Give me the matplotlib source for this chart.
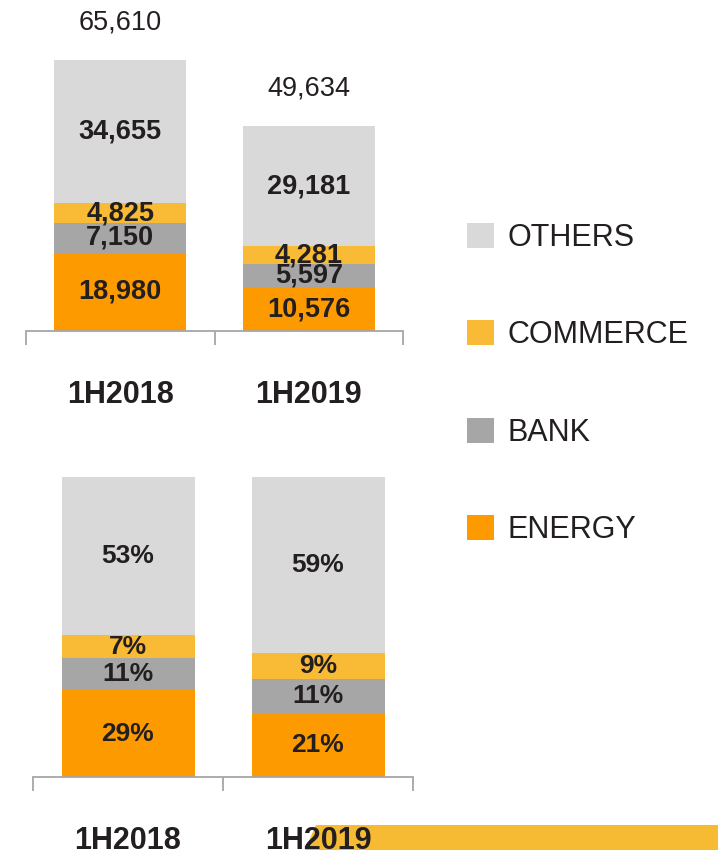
import matplotlib
matplotlib.use("Agg")
import matplotlib.pyplot as plt
from matplotlib.patches import Patch, Polygon

plt.rcParams['font.family'] = ['Liberation Sans', 'DejaVu Sans']

# data
periods = ["1H2018", "1H2019"]
segments = ["ENERGY", "BANK", "COMMERCE", "OTHERS"]
energy = [18980, 10576]
bank = [7150, 5597]
commerce = [4825, 4281]
others = [34655, 29181]
totals = [65610, 49634]

energy_pct = [28.9, 21.3]
bank_pct = [10.9, 11.3]
commerce_pct = [7.4, 8.6]
others_pct = [52.8, 58.8]

colors = {"ENERGY": "#FD9A00", "BANK": "#A6A6A6", "COMMERCE": "#F9BB35", "OTHERS": "#D9D9D9"}
text_col = "#231F20"
axis_col = "#A6A6A6"

W, H = 718, 850
fig = plt.figure(figsize=(W / 100, H / 100), dpi=100)


def px_axes(left, right, bottom, top):
    return fig.add_axes([left / W, (H - bottom) / H, (right - left) / W, (bottom - top) / H])


def style_axis(ax):
    ax.set_facecolor("none")
    for s in ["top", "right", "left"]:
        ax.spines[s].set_visible(False)
    ax.spines["bottom"].set_color(axis_col)
    ax.spines["bottom"].set_linewidth(1.3)
    ax.set_yticks([])
    ax.set_xlim(-0.5, 1.5)
    ax.set_xticks([0, 1])
    ax.set_xticklabels(periods, fontsize=22, fontweight="bold", color=text_col)
    ax.tick_params(axis="x", which="major", length=0, pad=35)
    ax.set_xticks([-0.5, 0.5, 1.5], minor=True)
    ax.tick_params(axis="x", which="minor", length=10, width=1.3, color=axis_col, direction="out")


x = [0, 1]
bw = 0.70

# top chart: absolute values
ax1 = px_axes(26, 403, 331, 10)
style_axis(ax1)
ax1.set_ylim(0, 77700)
stack = [energy, bank, commerce, others]
bottom = [0, 0]
for name, vals in zip(segments, stack):
    bars = ax1.bar(x, vals, bw, bottom=bottom, color=colors[name], linewidth=0)
    for i, v in enumerate(vals):
        ax1.text(x[i], bottom[i] + v / 2, f"{v:,}", ha="center", va="center",
                 fontsize=19.5, fontweight="bold", color=text_col)
    bottom = [b + v for b, v in zip(bottom, vals)]
for i, t in enumerate(totals):
    ax1.annotate(f"{t:,}", (x[i], t), xytext=(0, 27), textcoords="offset points",
                 ha="center", va="center", fontsize=19.5, color=text_col)

# bottom chart: shares
ax2 = px_axes(33, 413, 777, 460)
style_axis(ax2)
ax2.set_ylim(0, 105.67)
stack_pct = [energy_pct, bank_pct, commerce_pct, others_pct]
bottom = [0, 0]
for name, vals in zip(segments, stack_pct):
    ax2.bar(x, vals, bw, bottom=bottom, color=colors[name], linewidth=0)
    for i, v in enumerate(vals):
        ax2.text(x[i], bottom[i] + v / 2, f"{v:.0f}%", ha="center", va="center",
                 fontsize=19, fontweight="bold", color=text_col)
    bottom = [b + v for b, v in zip(bottom, vals)]

# legend
handles = [Patch(facecolor=colors[n], edgecolor="none") for n in segments[::-1]]
fig.legend(handles, segments[::-1], loc="center left", bbox_to_anchor=(467 / W, (H - 384) / H),
           frameon=False, fontsize=22, handlelength=0.88, handleheight=0.88,
           labelspacing=2.2, handletextpad=0.45, borderpad=0, borderaxespad=0,
           labelcolor=text_col)

# decorative stripe at the bottom
stripe = Polygon([(305 / W, 0), (316 / W, 25 / H), (1, 25 / H), (1, 0)], closed=True,
                 transform=fig.transFigure, facecolor="#F7BB33", edgecolor="none", zorder=-1)
fig.add_artist(stripe)

fig.savefig("out.png", dpi=100)
